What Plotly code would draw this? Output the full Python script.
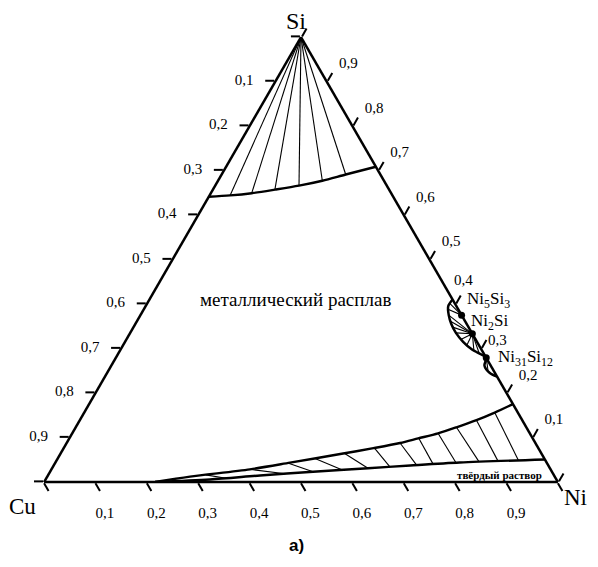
import plotly.graph_objects as go

# Мольные доли: a = Si (верх), b = Cu (слева внизу), c = Ni (справа внизу)

# Ликвидус у вершины Si
top_si = [0.641, 0.644, 0.649, 0.657, 0.666, 0.677, 0.691, 0.7085]
top_cu = [0.359, 0.316, 0.2714, 0.2223, 0.1709, 0.120, 0.0675, 0.0]
top_ni = [0.0, 0.040, 0.0796, 0.1207, 0.1631, 0.203, 0.2415, 0.2915]

# Ликвидус и солидус твёрдого раствора на основе Cu-Ni
liq_si = [0.0, 0.012, 0.0285, 0.0434, 0.064, 0.076, 0.0876, 0.098, 0.1094, 0.123, 0.139, 0.156, 0.175]
liq_ni = [0.216, 0.278, 0.3865, 0.457, 0.550, 0.603, 0.649, 0.679, 0.712, 0.741, 0.772, 0.799, 0.825]
sol_si = [0.0, 0.0056, 0.0146, 0.0231, 0.0308, 0.0371, 0.0438, 0.0506]
sol_ni = [0.216, 0.320, 0.413, 0.512, 0.615, 0.694, 0.787, 0.9494]

# Коноды: конец на ликвидусе -> конец на солидусе
tl_liq_si = [0.016, 0.0285, 0.0426, 0.0526, 0.0640, 0.0761, 0.0876, 0.0984, 0.1094, 0.123, 0.139, 0.156]
tl_liq_ni = [0.3065, 0.386, 0.453, 0.501, 0.553, 0.605, 0.649, 0.680, 0.712, 0.741, 0.772, 0.799]
tl_sol_si = [0.0085, 0.0186, 0.0231, 0.0272, 0.0308, 0.0341, 0.0380, 0.0402, 0.0433, 0.0453, 0.0469, 0.0485]
tl_sol_ni = [0.350, 0.460, 0.512, 0.567, 0.615, 0.656, 0.706, 0.737, 0.780, 0.824, 0.860, 0.899]

# Силициды никеля на стороне Ni-Si
cmp_names = ["Ni<sub>5</sub>Si<sub>3</sub>", "Ni<sub>2</sub>Si", "Ni<sub>31</sub>Si<sub>12</sub>"]
cmp_si = [0.375, 0.333, 0.279]
cmp_ni = [0.625, 0.667, 0.721]

# Граница области первичной кристаллизации силицидов
arc_si = [0.41, 0.395, 0.375, 0.355, 0.335, 0.315, 0.297, 0.279, 0.262, 0.245, 0.237]
arc_cu = [0.0, 0.016, 0.025, 0.030, 0.031, 0.027, 0.018, 0.0, 0.012, 0.010, 0.0]

# Веерные коноды: индекс силицида, точка на границе (Si, Cu)
fan_from = [0, 0, 1, 1, 1, 1, 1, 1, 1, 1, 2, 2]
fan_si = [0.402, 0.388, 0.375, 0.362, 0.348, 0.335, 0.320, 0.307, 0.295, 0.287, 0.262, 0.250]
fan_cu = [0.010, 0.020, 0.025, 0.029, 0.031, 0.031, 0.029, 0.024, 0.016, 0.009, 0.012, 0.011]

tick_vals = [0.0, 0.1, 0.2, 0.3, 0.4, 0.5, 0.6, 0.7, 0.8, 0.9, 1.0]
tick_text = ["", "0,9", "0,8", "0,7", "0,6", "0,5", "0,4", "0,3", "0,2", "0,1", ""]
# на стороне Ni-Si подписи 0,4 и 0,3 вынесены отдельно, чтобы не налезать на силициды
tick_text_c = ["", "0,9", "0,8", "0,7", "0,6", "0,5", "", "", "0,2", "0,1", ""]

SERIF = "Liberation Serif"
FULL = dict(x=[0, 1], y=[0, 1])


def rest(x, y):
    return [round(1 - p - q, 5) for p, q in zip(x, y)]


def segments(a1, b1, c1, a2, b2, c2):
    a, b, c = [], [], []
    for i in range(len(a1)):
        a += [a1[i], a2[i], None]
        b += [b1[i], b2[i], None]
        c += [c1[i], c2[i], None]
    return a, b, c


def line(a, b, c, width, smooth=False):
    ln = dict(color="black", width=width)
    if smooth:
        ln.update(shape="spline", smoothing=0.8)
    return go.Scatterternary(a=a, b=b, c=c, mode="lines", cliponaxis=False, line=ln,
                             hoverinfo="skip", showlegend=False)


fig = go.Figure()

# верхняя область
fig.add_trace(line(top_si, top_cu, top_ni, 2.4, smooth=True))
n = len(top_si) - 2
ta, tb, tc = segments([1.0] * n, [0.0] * n, [0.0] * n, top_si[1:-1], top_cu[1:-1], top_ni[1:-1])
fig.add_trace(line(ta, tb, tc, 1.1))

# нижняя область (твёрдый раствор)
fig.add_trace(line(liq_si, rest(liq_si, liq_ni), liq_ni, 2.4, smooth=True))
fig.add_trace(line(sol_si, rest(sol_si, sol_ni), sol_ni, 2.4, smooth=True))
ba, bb, bc = segments(tl_liq_si, rest(tl_liq_si, tl_liq_ni), tl_liq_ni,
                      tl_sol_si, rest(tl_sol_si, tl_sol_ni), tl_sol_ni)
fig.add_trace(line(ba, bb, bc, 1.1))

# силициды
fig.add_trace(line(arc_si, arc_cu, rest(arc_si, arc_cu), 2.5, smooth=True))
fa, fb, fc = segments([cmp_si[k] for k in fan_from], [0.0] * len(fan_from),
                      [cmp_ni[k] for k in fan_from], fan_si, fan_cu, rest(fan_si, fan_cu))
fig.add_trace(line(fa, fb, fc, 1.1))
fig.add_trace(go.Scatterternary(a=cmp_si, b=[0.0] * len(cmp_si), c=cmp_ni, mode="markers",
                                cliponaxis=False, marker=dict(color="black", size=7),
                                hovertext=cmp_names, showlegend=False))

# второй (прозрачный) треугольник только для подписей делений, отодвинутых от оси
fig.add_trace(go.Scatterternary(a=[1], b=[0], c=[0], subplot="ternary2", mode="markers",
                                marker=dict(opacity=0), hoverinfo="skip", showlegend=False))


def axis():
    return dict(title=dict(text=""), tickmode="array", tickvals=tick_vals,
                ticks="outside", ticklen=9, tickwidth=1.6, tickcolor="black",
                showticklabels=False,
                showline=True, linecolor="black", linewidth=2.5, showgrid=False)


def label_axis(text):
    return dict(title=dict(text=""), tickmode="array", tickvals=tick_vals, ticktext=text,
                ticks="outside", ticklen=19, tickcolor="rgba(0,0,0,0)",
                tickfont=dict(family=SERIF, size=15, color="black"),
                showline=False, showgrid=False)


def note(text, x, y, size, anchor="center", family=SERIF):
    return dict(text=text, x=x, y=y, xref="paper", yref="paper", xanchor=anchor,
                yanchor="middle", showarrow=False,
                font=dict(family=family, size=size, color="black"))


fig.update_layout(
    width=598, height=567,
    margin=dict(l=36, r=48, t=29, b=93),
    paper_bgcolor="white",
    ternary=dict(domain=FULL, sum=1, bgcolor="white",
                 aaxis=axis(), baxis=axis(), caxis=axis()),
    ternary2=dict(domain=FULL, sum=1, bgcolor="rgba(0,0,0,0)", aaxis=label_axis(tick_text),
                  baxis=label_axis(tick_text), caxis=label_axis(tick_text_c)),
    font=dict(family=SERIF, color="black"),
    annotations=[
        note("Si", 0.490, 1.037, 24),
        note("Cu", -0.041, -0.056, 23),
        note("Ni", 1.035, -0.034, 23),
        note("0,4", 0.817, 0.454, 15),
        note("0,3", 0.883, 0.319, 15),
        note("металлический расплав", 0.49, 0.409, 19),
        note("<b>твёрдый раствор</b>", 0.887, 0.016, 11),
        note(cmp_names[0], 0.820, 0.409, 17, "left"),
        note(cmp_names[1], 0.826, 0.360, 17, "left"),
        note(cmp_names[2], 0.880, 0.279, 17, "left"),
        note("<b>a)</b>", 0.492, -0.142, 17, family="Liberation Sans"),
    ],
)

fig.write_html("out.html")
